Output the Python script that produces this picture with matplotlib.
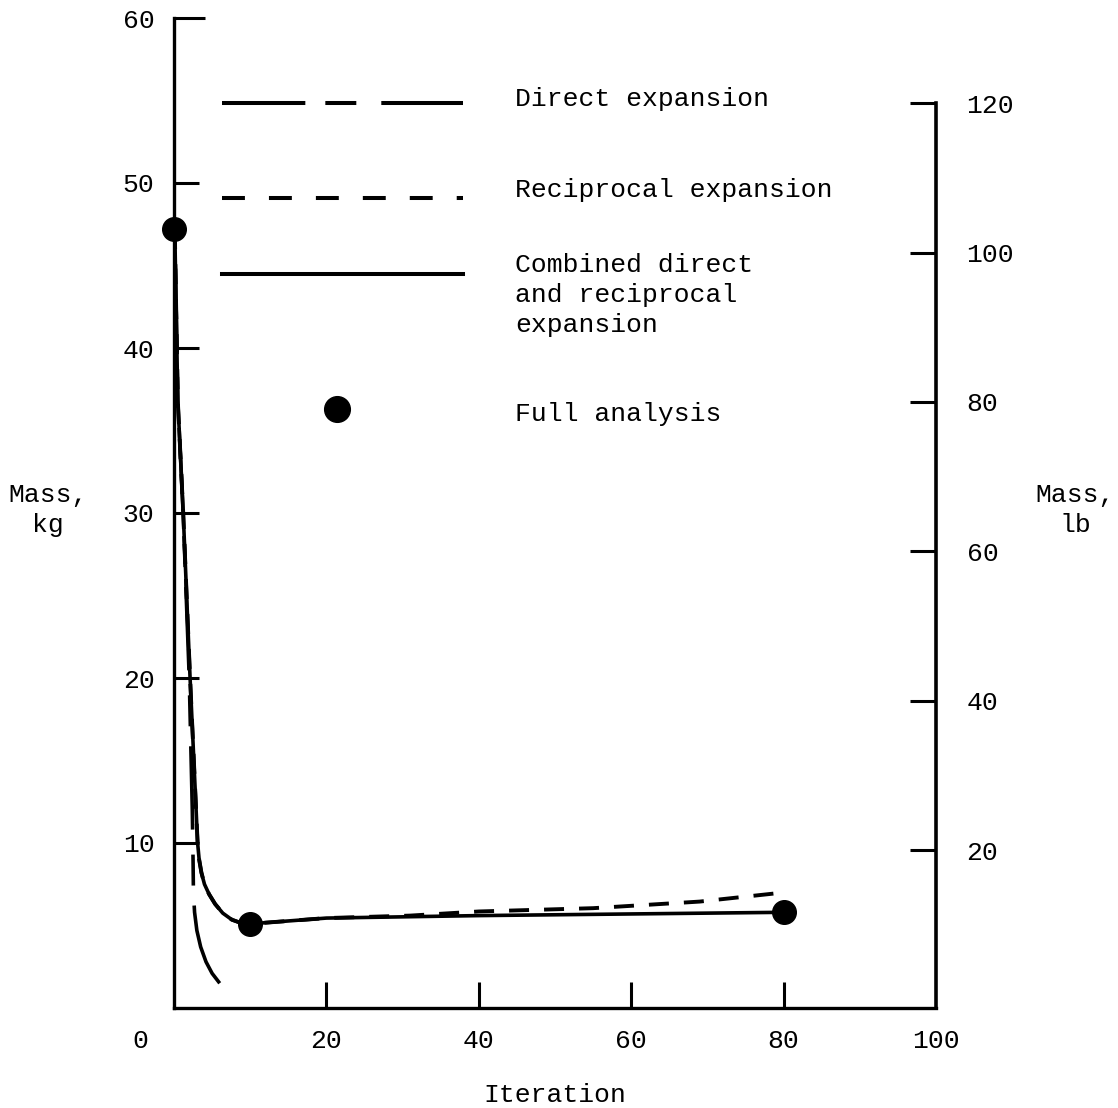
import numpy as np
import matplotlib
matplotlib.use('Agg')
import matplotlib.pyplot as plt

plt.rcParams['font.family'] = ['Liberation Mono', 'DejaVu Sans']
plt.rcParams['lines.scale_dashes'] = False

# values (iteration, mass kg)
direct_x = [0.1, 0.5, 1.2, 2.0, 2.4, 2.5, 2.55, 2.7, 3.0, 3.5, 4.2, 5.0, 6.0]
direct_y = [47.2, 36.8, 30.0, 20.0, 12.0, 9.0, 7.0, 5.8, 4.7, 3.7, 2.8, 2.1, 1.5]

recip_x = [0.1, 0.5, 1.2, 2.1, 3.1, 3.3, 3.6, 4.0, 4.6, 5.4, 6.4, 7.6, 8.8, 10.0,
           20, 31, 40, 55, 69, 80]
recip_y = [47.2, 36.8, 30.1, 20.1, 10.0, 9.0, 8.2, 7.5, 6.9, 6.3, 5.75, 5.35, 5.15, 5.1,
           5.45, 5.6, 5.85, 6.05, 6.45, 7.0]

comb_x = [0.1, 0.5, 1.2, 2.1, 3.1, 3.3, 3.6, 4.0, 4.6, 5.4, 6.4, 7.6, 8.8, 10.0,
          20, 40, 60, 80]
comb_y = [47.2, 36.8, 30.1, 20.1, 10.0, 9.0, 8.2, 7.5, 6.9, 6.3, 5.75, 5.35, 5.15, 5.1,
          5.45, 5.6, 5.7, 5.8]

full_x = [0, 10, 80]
full_y = [47.2, 5.1, 5.8]

xticks = [20, 40, 60, 80, 100]
yticks_kg = [10, 20, 30, 40, 50, 60]
yticks_lb = [20, 40, 60, 80, 100, 120]

direct_dash = (0, (60, 14.4, 22.3, 18))
recip_dash = (0, (14.4, 10.8))
recip_dash_key = (0, (16.5, 17.3))

fig = plt.figure(figsize=(11.18, 11.08), dpi=100)
ax = fig.add_axes([174/1118, 100/1108, 762/1118, 990/1108])
ax.set_xlim(0, 100)
ax.set_ylim(0, 60)

lw = 2.6
ax.plot(direct_x[::-1], direct_y[::-1], color='black', lw=lw, linestyle=direct_dash)
ax.plot(recip_x, recip_y, color='black', lw=2.8, linestyle=recip_dash)
ax.plot(comb_x, comb_y, color='black', lw=lw)
ax.plot(full_x, full_y, 'o', color='black', ms=17, clip_on=False, zorder=5)

# key drawn inside the plot, as in the original
kx = [6.3, 37.9]
ax.plot(kx, [54.85, 54.85], color='black', lw=2.9, linestyle=direct_dash)
ax.plot(kx, [49.1, 49.1], color='black', lw=2.9, linestyle=recip_dash_key)
ax.plot(kx, [44.5, 44.5], color='black', lw=2.9)
ax.plot([21.4], [36.3], 'o', color='black', ms=18.5)
fs = 19
ax.text(44.75, 55.1, 'Direct expansion', fontsize=fs, va='center')
ax.text(44.75, 49.6, 'Reciprocal expansion', fontsize=fs, va='center')
ax.text(44.75, 45.75, 'Combined direct\nand reciprocal\nexpansion', fontsize=fs,
        va='top', linespacing=1.32)
ax.text(44.75, 36.0, 'Full analysis', fontsize=fs, va='center')

for s in ['top', 'right']:
    ax.spines[s].set_visible(False)
for s in ['left', 'bottom']:
    ax.spines[s].set_linewidth(2.4)

ax.set_xticks(xticks)
ax.set_xticklabels([str(t) for t in xticks])
ax.set_yticks(yticks_kg)
ax.set_yticklabels([str(t) for t in yticks_kg])
ax.tick_params(axis='y', direction='in', length=18, width=2.2, pad=14, labelsize=fs)
ax.tick_params(axis='x', direction='in', length=19, width=2.2, pad=15, labelsize=fs)
ax.yaxis.get_major_ticks()[-1].tick1line.set_markersize(22)
ax.xaxis.get_major_ticks()[-1].tick1line.set_visible(False)

# the "0" sits under the left tick labels
trans, va, ha = ax.get_xaxis_text1_transform(15)
ax.text(-4.46, 0, '0', transform=trans, va=va, ha='center', fontsize=fs)

ax.set_xlabel('Iteration', fontsize=fs, labelpad=22)

ax2 = ax.twinx()
ax2.set_ylim(-1.15, 131.4)
for s in ['top', 'left', 'bottom']:
    ax2.spines[s].set_visible(False)
ax2.spines['right'].set_linewidth(2.6)
ax2.spines['right'].set_bounds(-1.15, 120)
ax2.set_yticks(yticks_lb)
ax2.set_yticklabels([str(t) for t in yticks_lb])
ax2.tick_params(axis='y', direction='in', length=19, width=2.2, pad=22, labelsize=fs)

fig.text(48/1118, 1 - 510/1108, 'Mass,\nkg', fontsize=fs, ha='center', va='center',
         linespacing=1.32)
fig.text(1075/1118, 1 - 510/1108, 'Mass,\nlb', fontsize=fs, ha='center', va='center',
         linespacing=1.32)

fig.savefig('out.png', dpi=100)
